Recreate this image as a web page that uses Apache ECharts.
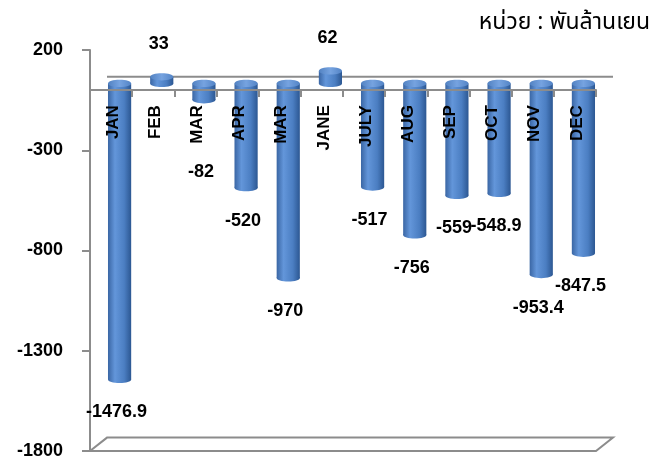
<!DOCTYPE html>
<html>
<head>
<meta charset="utf-8">
<script src="https://cdn.jsdelivr.net/npm/echarts@6/dist/echarts.min.js"></script>
<style>
html,body{margin:0;padding:0;background:#fff;}
#chart{width:663px;height:459px;}
</style>
</head>
<body>
<div id="chart"></div>
<script>
const categories = ['JAN', 'FEB', 'MAR', 'APR', 'MAR', 'JANE', 'JULY', 'AUG', 'SEP', 'OCT', 'NOV', 'DEC'];
const values = [-1476.9, 33, -82, -520, -970, 62, -517, -756, -559, -548.9, -953.4, -847.5];
const yTicks = [-1800, -1300, -800, -300, 200];
const unitText = 'หน่วย : พันล้านเยน';

const DX = 17, DY = -13.4, RY = 3.6;
const GRAY = '#8c8c8c';
const FONT = '"Liberation Sans", Arial, sans-serif';

const chart = echarts.init(document.getElementById('chart'), null, {renderer: 'canvas'});

const bodyGrad = () => new echarts.graphic.LinearGradient(0, 0, 1, 0, [
  {offset: 0, color: '#3a66a4'},
  {offset: 0.3, color: '#6396da'},
  {offset: 0.7, color: '#4b7ec2'},
  {offset: 1, color: '#2c5792'}
]);
const capGrad = () => new echarts.graphic.LinearGradient(0, 0, 1, 0, [
  {offset: 0, color: '#5282c2'},
  {offset: 0.5, color: '#76a3e0'},
  {offset: 1, color: '#5384c6'}
]);

const option = {
  backgroundColor: '#fff',
  animation: false,
  title: {
    text: unitText,
    right: 8,
    top: 8,
    textStyle: {fontSize: 23, fontWeight: 'normal', color: '#000', fontFamily: '"Noto Sans Thai", "Noto Sans", sans-serif'}
  },
  grid: {left: 90, right: 67, top: 50, bottom: 8, containLabel: false, outerBoundsMode: 'none'},
  xAxis: {
    type: 'category',
    data: categories,
    boundaryGap: true,
    z: 10,
    axisLine: {show: true, onZero: true, lineStyle: {color: GRAY, width: 2}},
    axisTick: {show: true, length: 7, lineStyle: {color: GRAY, width: 2}},
    axisLabel: {show: false}
  },
  yAxis: {
    type: 'value',
    min: -1800,
    max: 200,
    splitLine: {show: false},
    axisLine: {show: true, lineStyle: {color: GRAY, width: 2}},
    axisTick: {show: true, length: 8, customValues: yTicks, lineStyle: {color: GRAY, width: 2}},
    axisLabel: {customValues: yTicks, margin: 27, fontSize: 18, fontWeight: 'bold', color: '#000', fontFamily: FONT, formatter: v => String(v)}
  },
  series: [
    {
      type: 'custom',
      z: 1,
      silent: true,
      data: [[0, 0]],
      renderItem: function (params, api) {
        const cs = params.coordSys;
        const zeroY = api.coord([0, 0])[1];
        const x = cs.x, y = cs.y, w = cs.width, h = cs.height;
        return {
          type: 'group',
          children: [
            {type: 'line', shape: {x1: x + DX, y1: zeroY + DY, x2: x + w + DX, y2: zeroY + DY}, style: {stroke: GRAY, lineWidth: 2}},
            {type: 'polygon', shape: {points: [[x, y + h], [x + DX, y + h + DY], [x + w + DX, y + h + DY], [x + w, y + h]]}, style: {fill: 'none', stroke: GRAY, lineWidth: 2}}
          ]
        };
      }
    },
    {
      type: 'custom',
      z: 2,
      data: values.map((v, i) => [i, v]),
      renderItem: function (params, api) {
        const i = api.value(0), v = api.value(1);
        const p0 = api.coord([i, 0]);
        const p1 = api.coord([i, v]);
        const band = api.size([1, 0])[0];
        const bw = band * 0.55;
        const cx = p0[0] + DX / 2;
        const y0 = p0[1] + DY / 2;
        const y1 = p1[1] + DY / 2;
        const top = Math.min(y0, y1), bot = Math.max(y0, y1);
        let ly;
        if (v < 0) {
          ly = Math.max(y1 + 33, p0[1] + 82);
        } else {
          ly = y1 - 33;
        }
        return {
          type: 'group',
          children: [
            {type: 'ellipse', shape: {cx: cx, cy: bot, rx: bw / 2, ry: RY}, style: {fill: bodyGrad()}},
            {type: 'rect', shape: {x: cx - bw / 2, y: top, width: bw, height: bot - top}, style: {fill: bodyGrad()}},
            {type: 'ellipse', shape: {cx: cx, cy: top, rx: bw / 2, ry: RY}, style: {fill: capGrad()}},
            {type: 'text', x: cx - 3, y: ly, style: {text: String(v), fontSize: 18, fontWeight: 'bold', fontFamily: FONT, fill: '#000', align: 'center', verticalAlign: 'middle'}},
            {type: 'text', x: p0[0] + 2, y: p0[1] + 15, rotation: Math.PI / 2, z2: 20, style: {text: categories[i], fontSize: 17, fontWeight: 'bold', fontFamily: FONT, fill: '#000', align: 'right', verticalAlign: 'middle'}}
          ]
        };
      }
    }
  ]
};
chart.setOption(option);
</script>
</body>
</html>
